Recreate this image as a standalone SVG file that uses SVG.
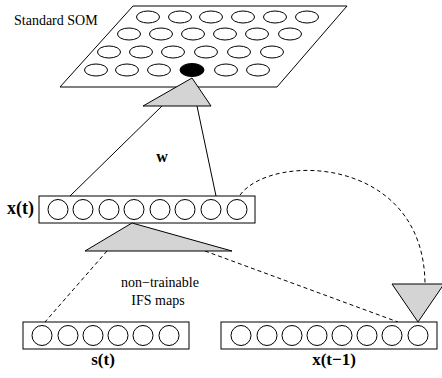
<svg xmlns="http://www.w3.org/2000/svg" width="442" height="378" viewBox="0 0 442 378">
<style>
.ln{stroke:#000;stroke-width:1;fill:none}
.dash{stroke:#000;stroke-width:1;fill:none;stroke-dasharray:4,3}
.box{fill:#fff;stroke:#000;stroke-width:1}
.tri{fill:#d4d4d4;stroke:#000;stroke-width:1}
.u{fill:#fff;stroke:#000;stroke-width:1}
.lbl{font-family:"Liberation Serif",serif;font-weight:bold;font-size:17px;fill:#000}
.txt{font-family:"Liberation Serif",serif;font-size:14px;fill:#000}
</style>
<g id="som">
<polygon class="box" points="133,6 347,6 277,87 60,87"/>
<g class="u">
<ellipse cx="148" cy="17" rx="11.5" ry="6"/><ellipse cx="180" cy="17" rx="11.5" ry="6"/><ellipse cx="211" cy="17" rx="11.5" ry="6"/><ellipse cx="243" cy="17" rx="11.5" ry="6"/><ellipse cx="275" cy="17" rx="11.5" ry="6"/><ellipse cx="307" cy="17" rx="11.5" ry="6"/>
<ellipse cx="129" cy="34" rx="11.5" ry="6"/><ellipse cx="161" cy="34" rx="11.5" ry="6"/><ellipse cx="193" cy="34" rx="11.5" ry="6"/><ellipse cx="225" cy="34" rx="11.5" ry="6"/><ellipse cx="257" cy="34" rx="11.5" ry="6"/><ellipse cx="290" cy="34" rx="11.5" ry="6"/>
<ellipse cx="109" cy="52" rx="11.5" ry="6"/><ellipse cx="141" cy="52" rx="11.5" ry="6"/><ellipse cx="173" cy="52" rx="11.5" ry="6"/><ellipse cx="206" cy="52" rx="11.5" ry="6"/><ellipse cx="239" cy="52" rx="11.5" ry="6"/><ellipse cx="272" cy="52" rx="11.5" ry="6"/>
<ellipse cx="96" cy="70" rx="11.5" ry="6"/><ellipse cx="127" cy="70" rx="11.5" ry="6"/><ellipse cx="159" cy="70" rx="11.5" ry="6"/><ellipse cx="226" cy="70" rx="11.5" ry="6"/><ellipse cx="258" cy="70" rx="11.5" ry="6"/>
</g>
<ellipse cx="192" cy="70" rx="12" ry="6.5" fill="#000" stroke="#000"/>
<text class="txt" x="14" y="25">Standard SOM</text>
</g>
<g id="connectors">
<line class="ln" x1="162" y1="106" x2="70" y2="196"/>
<line class="ln" x1="197" y1="106" x2="216" y2="196"/>
<line class="dash" x1="107" y1="251" x2="45" y2="322"/>
<line class="dash" x1="205" y1="251" x2="398" y2="322"/>
<path class="dash" d="M240,195 C272,152 424,156 425,284" stroke-dasharray="5,4"/>
</g>
<g id="som-tri">
<polygon class="tri" points="192,78 143,106 211,106"/>
</g>
<text class="lbl" x="162" y="162" text-anchor="middle" style="font-size:16px">w</text>
<g id="xt">
<rect class="box" x="39" y="196" width="216" height="27"/>
<g class="u">
<circle cx="58" cy="209.5" r="10"/><circle cx="83" cy="209.5" r="10"/><circle cx="109" cy="209.5" r="10"/><circle cx="134" cy="209.5" r="10"/><circle cx="160" cy="209.5" r="10"/><circle cx="185" cy="209.5" r="10"/><circle cx="211" cy="209.5" r="10"/><circle cx="237" cy="209.5" r="10"/>
</g>
<text class="lbl" x="7" y="214" style="font-size:18px">x(t)</text>
</g>
<g id="ifs-tri">
<polygon class="tri" points="132,223 85,251 232,251"/>
</g>
<g id="ifs-label">
<text class="txt" x="160" y="287" text-anchor="middle">non−trainable</text>
<text class="txt" x="158" y="305" text-anchor="middle">IFS maps</text>
</g>
<g id="st">
<rect class="box" x="23" y="322" width="166" height="27"/>
<g class="u">
<circle cx="42" cy="335.5" r="10"/><circle cx="68" cy="335.5" r="10"/><circle cx="93" cy="335.5" r="10"/><circle cx="118" cy="335.5" r="10"/><circle cx="143" cy="335.5" r="10"/><circle cx="169" cy="335.5" r="10"/>
</g>
<text class="lbl" x="103" y="365" text-anchor="middle">s(t)</text>
</g>
<g id="xt1">
<rect class="box" x="221" y="322" width="216" height="27"/>
<g class="u">
<circle cx="241" cy="335.5" r="10"/><circle cx="267" cy="335.5" r="10"/><circle cx="292" cy="335.5" r="10"/><circle cx="317" cy="335.5" r="10"/><circle cx="342" cy="335.5" r="10"/><circle cx="367" cy="335.5" r="10"/><circle cx="392" cy="335.5" r="10"/><circle cx="418" cy="335.5" r="10"/>
</g>
<text class="lbl" x="334" y="365" text-anchor="middle">x(t−1)</text>
</g>
<g id="delay-tri">
<polygon class="tri" points="392,284 444,284 418,322"/>
</g>
</svg>
